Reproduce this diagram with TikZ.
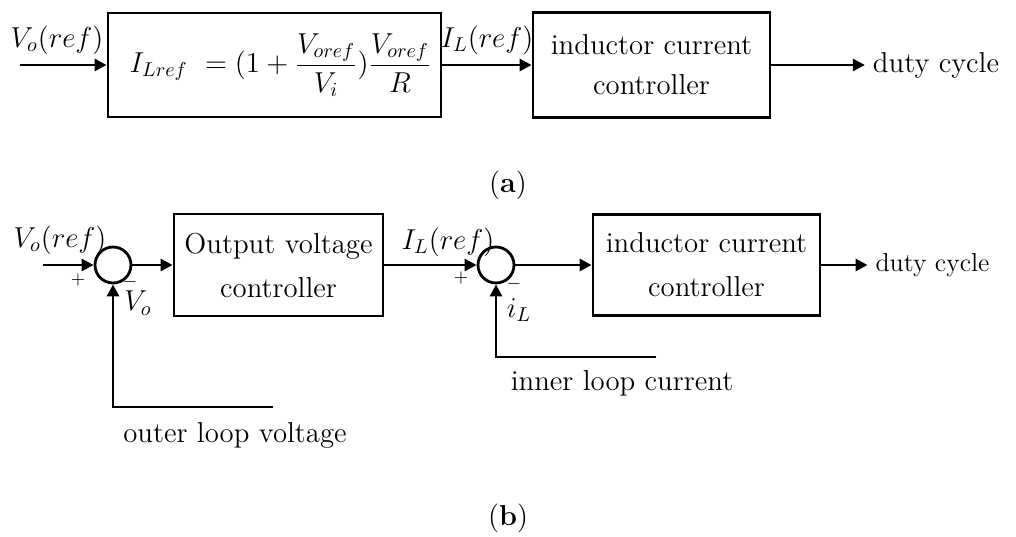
\documentclass[tikz,border=0pt]{standalone}
\usepackage{fontspec}
\usetikzlibrary{arrows.meta,positioning}
\tikzset{
  block/.style={draw, align=center, inner sep=2pt, font=\fontsize{14.4}{20}\selectfont},
  sumnode/.style={draw, circle, minimum size=18pt, inner sep=0pt},
  lbl/.style={font=\fontsize{14.4}{18}\selectfont},
  smalllbl/.style={font=\fontsize{13}{15}\selectfont},
  sgn/.style={font=\fontsize{9}{10}\selectfont, inner sep=0pt},
}
\begin{document}
\begin{tikzpicture}[x=0.5pt, y=-0.5pt, line width=1.4pt, >={Triangle[length=6pt,width=6pt]}]
\useasboundingbox (0,0) rectangle (1016,536);
% (a) reference current calculation
\node[block, minimum width=166.5pt, minimum height=52pt] (refcalc) at (274.5,65) {\hspace{6pt}$\displaystyle I_{Lref}\ = (1+\frac{V_{oref}}{V_i})\frac{V_{oref}}{R}$};
\node[block, minimum width=118.5pt, minimum height=52.5pt] (curctrlA) at (651.5,65) {inductor current\\controller};
\node[lbl] (dutyA) at (936,65) {duty cycle};
\coordinate (inA) at (20,65);
\node[lbl] (vrefA) at (57,40) {$V_o(ref)$};
\node[lbl] (ilrefA) at (487,40) {$I_L(ref)$};
\draw[->] (inA) -- (refcalc);
\draw[->] (refcalc) -- (curctrlA);
\draw[->] (curctrlA) -- (dutyA);
\node[lbl] (capA) at (508,185) {(\textbf{a})};
% (b) cascaded loops
\node[sumnode] (sumV) at (113,265) {};
\node[block, minimum width=104.5pt, minimum height=51pt, font=\fontsize{14.4}{22}\selectfont] (vctrl) at (278.5,265) {Output voltage\\controller};
\node[sumnode] (sumI) at (496,265) {};
\node[block, minimum width=113.5pt, minimum height=50.5pt, font=\fontsize{14.4}{22}\selectfont] (curctrlB) at (706.5,265) {inductor current\\controller};
\node[smalllbl] (dutyB) at (932.5,265) {duty cycle};
\coordinate (inB) at (43,265);
\coordinate (fbV) at (273,407);
\coordinate (fbI) at (656,357);
\draw[->] (inB) -- (sumV);
\draw[->] (sumV) -- (vctrl);
\draw[->] (vctrl) -- (sumI);
\draw[->] (sumI) -- (curctrlB);
\draw[->] (curctrlB) -- (dutyB);
\draw[->] (fbV) -| (sumV.south);
\draw[->] (fbI) -| (sumI.south);
\node[lbl] (vrefB) at (60,240) {$V_o(ref)$};
\node[lbl] (ilrefB) at (448,242) {$I_L(ref)$};
\node[sgn] (plusV) at (78,280) {+};
\node[sgn] (minusV) at (130,282) {$-$};
\node[sgn] (plusI) at (461,278) {+};
\node[sgn] (minusI) at (514,284) {$-$};
\node[lbl] (voB) at (138,303) {$V_o$};
\node[lbl] (ilB) at (519,310) {$i_L$};
\node[lbl] (outerlbl) at (235,435) {outer loop voltage};
\node[lbl] (innerlbl) at (622,383) {inner loop current};
\node[lbl] (capB) at (508,518) {(\textbf{b})};
\end{tikzpicture}
\end{document}
